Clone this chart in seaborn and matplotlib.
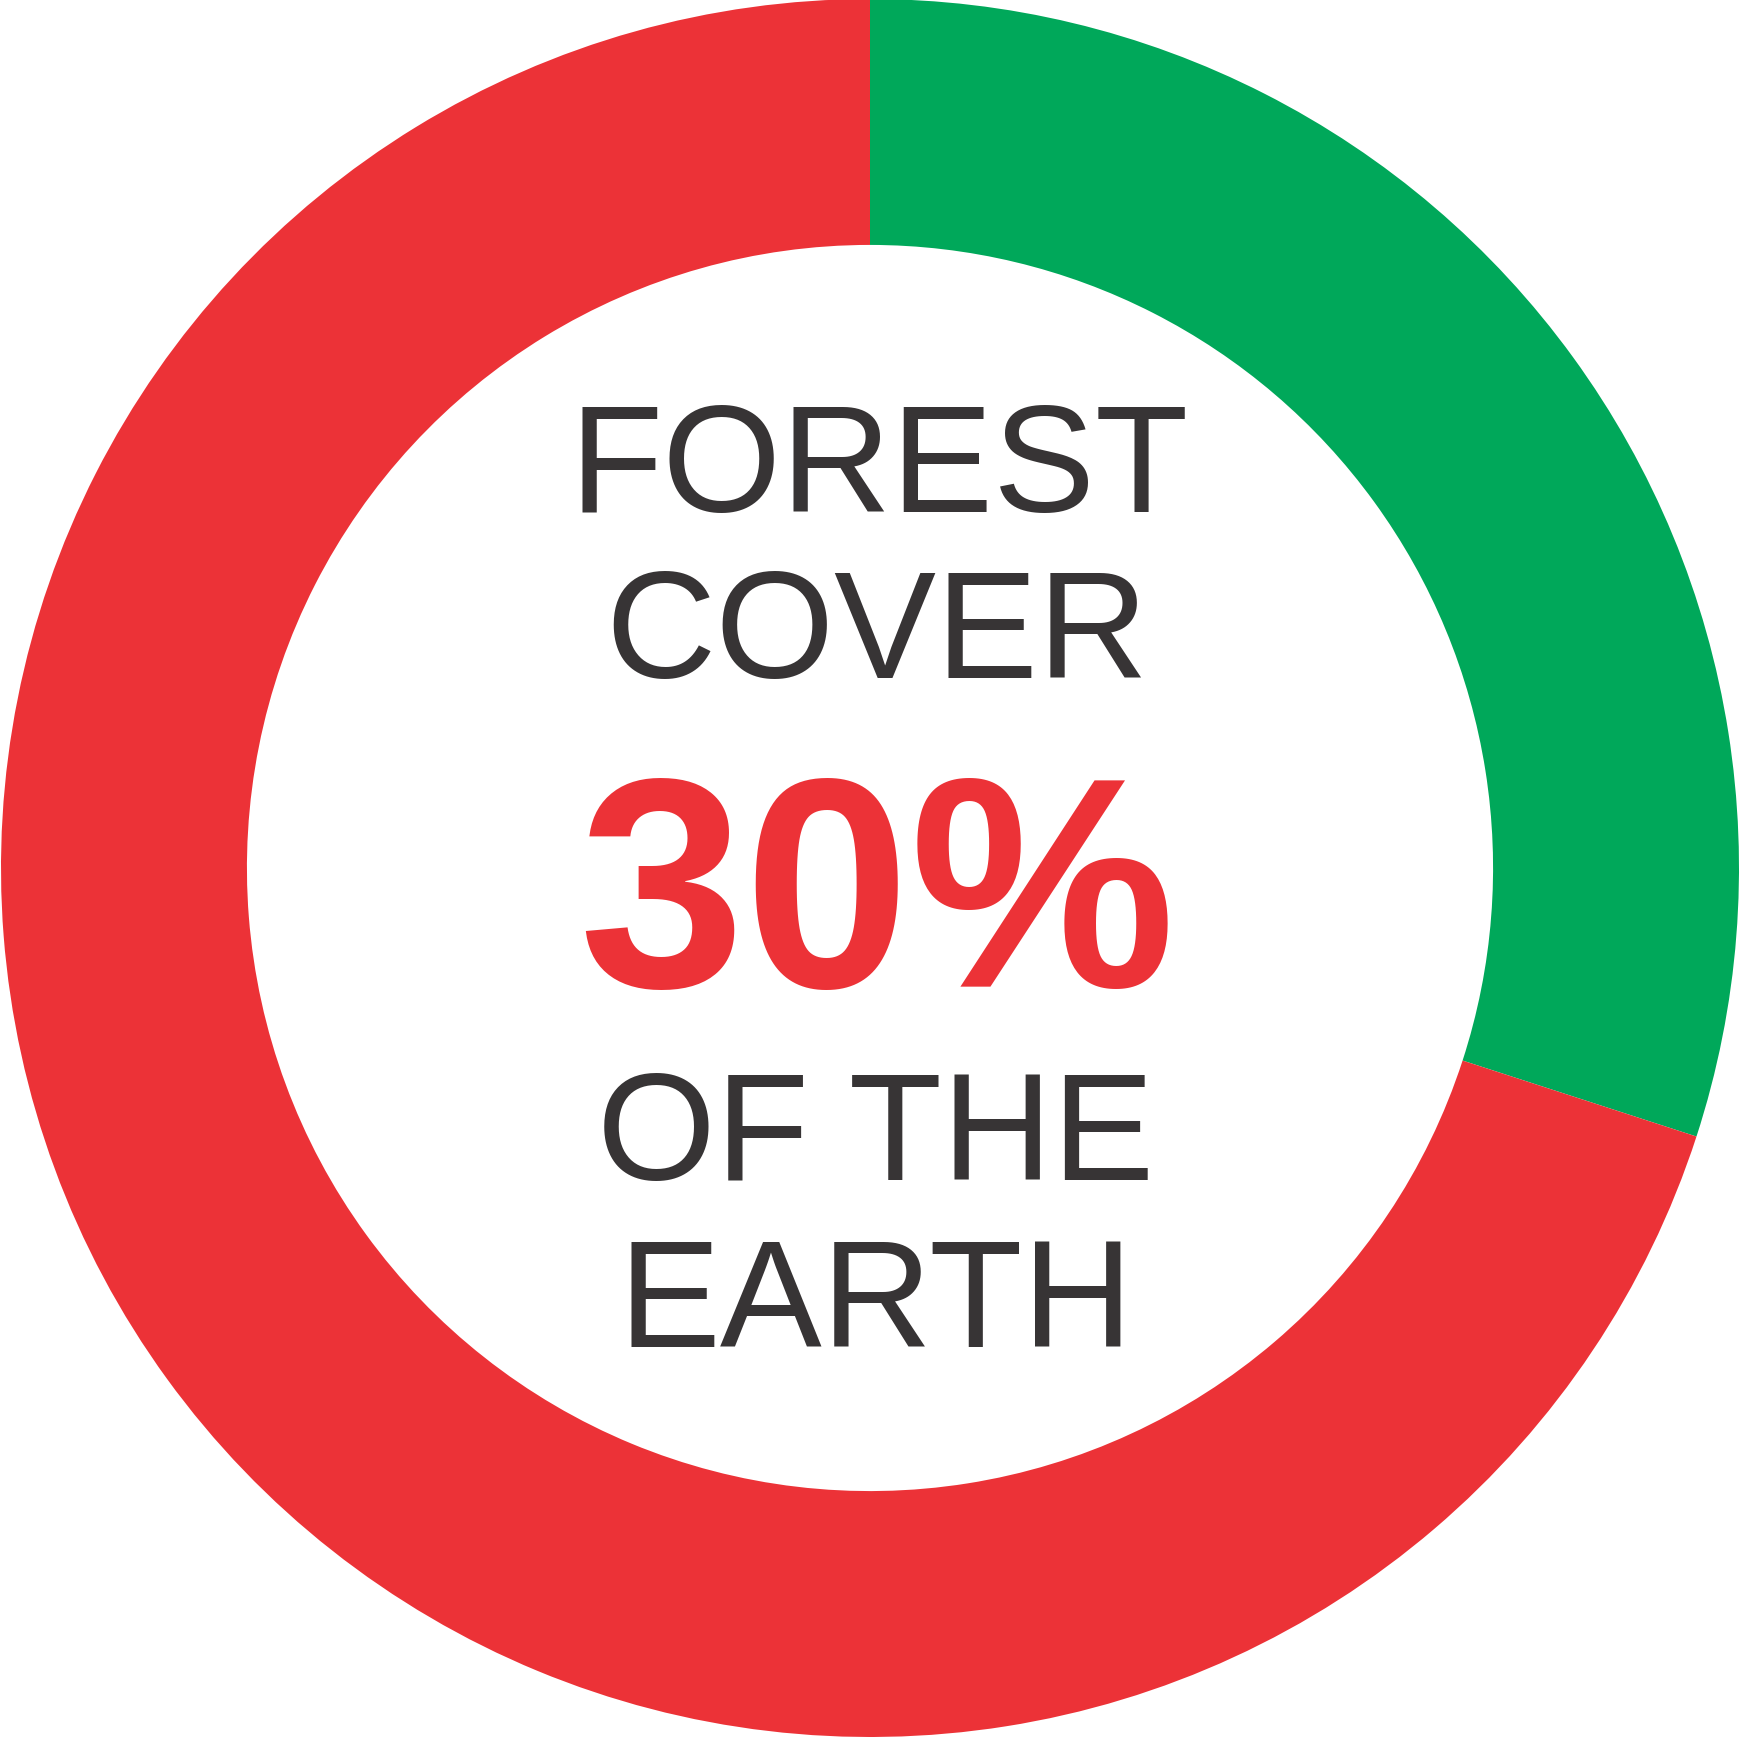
import matplotlib
matplotlib.use("Agg")
import matplotlib.pyplot as plt
import seaborn as sns

# data
labels = ["Forest", "Other"]
shares = [30, 70]
colors = ["#00A85A", "#EC3237"]
lines = ["FOREST", "COVER", "30%", "OF THE", "EARTH"]

sns.set_theme(style="white")
plt.rcParams["font.family"] = ["Liberation Sans", "DejaVu Sans"]

W, H = 1744, 1737
cx, cy, R = 870, 868, 869  # pixel centre and radius

fig = plt.figure(figsize=(W / 100, H / 100), dpi=100)
ax = fig.add_axes([0, 0, 1, 1])
ax.pie(shares, colors=colors, startangle=90, counterclock=False, radius=1,
       wedgeprops=dict(width=0.283, edgecolor="none", linewidth=0))
ax.set_aspect("auto")
ax.set_xlim(-cx / R, (W - cx) / R)
ax.set_ylim(-(H - cy) / R, cy / R)
ax.axis("off")


def to_data(xp, yp):
    return (xp - cx) / R, (cy - yp) / R


# text baselines in pixels (x centre, baseline y)
text_dark = "#373435"
spots = [(879, 512), (877, 678), (877, 987), (876, 1180), (876, 1347)]
for txt, (xp, yp) in zip(lines, spots):
    x, y = to_data(xp, yp)
    if txt == "30%":
        ax.text(x, y, txt, ha="center", va="baseline", fontsize=215,
                fontweight="bold", color="#EC3237")
    else:
        ax.text(x, y, txt, ha="center", va="baseline", fontsize=110,
                color=text_dark)

fig.savefig("out.png", dpi=100, facecolor="white")
